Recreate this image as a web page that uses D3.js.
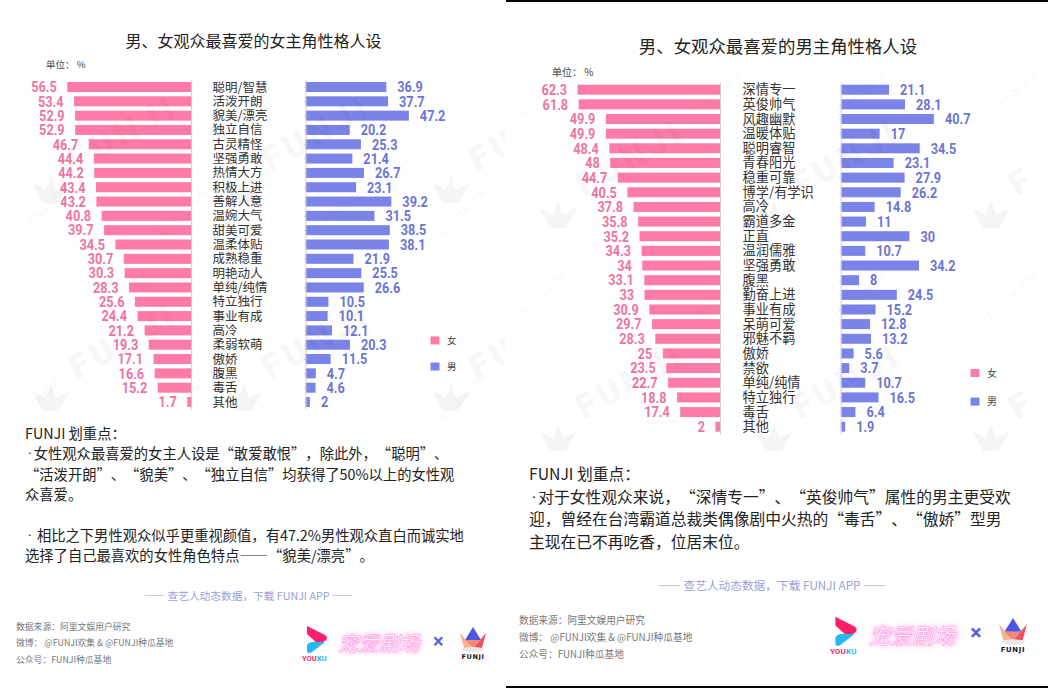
<!DOCTYPE html>
<html lang="zh-CN">
<head>
<meta charset="utf-8">
<script src="https://cdn.jsdelivr.net/npm/d3@7"></script>
<style>
@font-face { font-family: "NarrowDot"; src: local("Roboto"); unicode-range: U+B7; }
html, body { margin: 0; padding: 0; background: #fff; }
svg { display: block; }
text { font-family: "NarrowDot", "Noto Sans CJK SC", "Noto Sans", sans-serif; text-spacing-trim: space-all; }
</style>
</head>
<body>
<svg id="chart" width="1048" height="688"></svg>
<script>
// left panel, favourite female lead traits
var femaleLeadTraits = ["聪明/智慧", "活泼开朗", "貌美/漂亮", "独立自信", "古灵精怪", "坚强勇敢", "热情大方", "积极上进", "善解人意", "温婉大气", "甜美可爱", "温柔体贴", "成熟稳重", "明艳动人", "单纯/纯情", "特立独行", "事业有成", "高冷", "柔弱软萌", "傲娇", "腹黑", "毒舌", "其他"];
var femaleLeadWomen = [56.5, 53.4, 52.9, 52.9, 46.7, 44.4, 44.2, 43.4, 43.2, 40.8, 39.7, 34.5, 30.7, 30.3, 28.3, 25.6, 24.4, 21.2, 19.3, 17.1, 16.6, 15.2, 1.7];
var femaleLeadMen = [36.9, 37.7, 47.2, 20.2, 25.3, 21.4, 26.7, 23.1, 39.2, 31.5, 38.5, 38.1, 21.9, 25.5, 26.6, 10.5, 10.1, 12.1, 20.3, 11.5, 4.7, 4.6, 2];

// right panel, favourite male lead traits
var maleLeadTraits = ["深情专一", "英俊帅气", "风趣幽默", "温暖体贴", "聪明睿智", "青春阳光", "稳重可靠", "博学/有学识", "高冷", "霸道多金", "正直", "温润儒雅", "坚强勇敢", "腹黑", "勤奋上进", "事业有成", "呆萌可爱", "邪魅不羁", "傲娇", "禁欲", "单纯/纯情", "特立独行", "毒舌", "其他"];
var maleLeadWomen = [62.3, 61.8, 49.9, 49.9, 48.4, 48, 44.7, 40.5, 37.8, 35.8, 35.2, 34.3, 34, 33.1, 33, 30.9, 29.7, 28.3, 25, 23.5, 22.7, 18.8, 17.4, 2];
var maleLeadMen = [21.1, 28.1, 40.7, 17, 34.5, 23.1, 27.9, 26.2, 14.8, 11, 30, 10.7, 34.2, 8, 24.5, 15.2, 12.8, 13.2, 5.6, 3.7, 10.7, 16.5, 6.4, 1.9];

var legendLabels = ["女", "男"];

var leftNotes = [
  "FUNJI 划重点：",
  "\u2009·\u2009女性观众最喜爱的女主人设是“敢爱敢恨”，除此外，“聪明”、",
  "“活泼开朗”、“貌美”、“独立自信”均获得了50%以上的女性观",
  "众喜爱。",
  "",
  "\u2009· \u2009相比之下男性观众似乎更重视颜值，有47.2%男性观众直白而诚实地",
  "选择了自己最喜欢的女性角色特点——“貌美/漂亮”。"
];
var rightNotes = [
  "FUNJI 划重点：",
  "\u2009·\u2009对于女性观众来说，“深情专一”、“英俊帅气”属性的男主更受欢",
  "迎，曾经在台湾霸道总裁类偶像剧中火热的“毒舌”、“傲娇”型男",
  "主现在已不再吃香，位居末位。"
];
var sourceLines = ["数据来源：阿里文娱用户研究", "微博： @FUNJI欢集 & @FUNJI种瓜基地", "公众号：FUNJI种瓜基地"];

var PINK = "#ff7ba7", BLUE = "#7a83e8", PINK_TEXT = "#ee74a2", BLUE_TEXT = "#6c75d6";

var svg = d3.select("#chart");

function drawPanel(p) {
  var g = svg.append("g");

  g.append("text").attr("x", p.titleX).attr("y", p.titleY)
    .attr("text-anchor", "middle").attr("font-size", p.titleSize).attr("fill", "#222")
    .text(p.title);
  g.append("text").attr("x", p.unitX).attr("y", p.unitY)
    .attr("font-size", p.smallSize).attr("fill", "#444").text("单位： %");

  // half a step of padding lets the axis line run a little past the first and last bar
  var step = (p.bottom - p.top) / (p.traits.length - 1);
  var y = d3.scalePoint().domain(p.traits).range([p.top - step / 2, p.bottom + step / 2]).padding(0.5);
  var xWomen = d3.scaleLinear().domain([0, 50]).range([p.womenBase, p.womenBase - 50 * p.pxPerUnit]);
  var xMen = d3.scaleLinear().domain([0, 50]).range([p.menBase, p.menBase + 50 * p.pxPerUnit]);
  var barH = 10;

  // bars
  g.selectAll(".women").data(p.women).enter().append("rect")
    .attr("x", function (d) { return xWomen(d); })
    .attr("y", function (d, i) { return y(p.traits[i]) - barH / 2; })
    .attr("width", function (d) { return xWomen(0) - xWomen(d); })
    .attr("height", barH)
    .style("fill", PINK);
  g.selectAll(".men").data(p.men).enter().append("rect")
    .attr("x", xMen(0))
    .attr("y", function (d, i) { return y(p.traits[i]) - barH / 2; })
    .attr("width", function (d) { return xMen(d) - xMen(0); })
    .attr("height", barH)
    .style("fill", BLUE);

  // the two axis lines with their little ticks
  [[d3.axisRight(y), p.womenBase], [d3.axisLeft(y), p.menBase]].forEach(function (a) {
    var ax = g.append("g").attr("transform", "translate(" + a[1] + ",0)")
      .call(a[0].tickSizeInner(1.5).tickSizeOuter(0).tickFormat(""));
    ax.selectAll("path, line").style("stroke", "#d0d0d6");
  });

  // value labels, squeezed sideways because no condensed bold font is around
  g.selectAll(".womenLabel").data(p.women).enter().append("text")
    .attr("transform", function (d, i) {
      return "translate(" + (xWomen(d) - 10.5) + "," + (y(p.traits[i]) + 5.3) + ") scale(0.82,1)";
    })
    .attr("text-anchor", "end")
    .style("font-family", "Roboto").style("font-weight", "bold").style("font-size", "15.5px")
    .style("fill", PINK_TEXT)
    .text(function (d) { return d; });
  g.selectAll(".menLabel").data(p.men).enter().append("text")
    .attr("transform", function (d, i) {
      return "translate(" + (xMen(d) + 11) + "," + (y(p.traits[i]) + 5.3) + ") scale(0.82,1)";
    })
    .style("font-family", "Roboto").style("font-weight", "bold").style("font-size", "15.5px")
    .style("fill", BLUE_TEXT)
    .text(function (d) { return d; });

  // trait names
  g.selectAll(".trait").data(p.traits).enter().append("text")
    .attr("x", p.traitX)
    .attr("y", function (d) { return y(d) + 4.5; })
    .attr("font-size", p.traitSize).attr("fill", "#333")
    .text(function (d) { return d; });

  // legend
  legendLabels.forEach(function (l, i) {
    var ly = p.legendY + i * p.legendGap;
    g.append("rect").attr("x", p.legendX).attr("y", ly - 4).attr("width", 9).attr("height", 8)
      .style("fill", i === 0 ? PINK : BLUE);
    g.append("text").attr("x", p.legendX + 16.5).attr("y", ly + 3.5)
      .attr("font-size", p.smallSize).attr("fill", "#444").text(l);
  });

  // commentary
  g.selectAll(".note").data(p.notes).enter().append("text")
    .attr("x", p.noteX)
    .attr("y", function (d, i) { return p.noteY + i * p.noteGap; })
    .attr("font-size", p.noteSize).attr("fill", "#222")
    .text(function (d) { return d; });

  // app line
  g.append("text").attr("x", p.appX).attr("y", p.appY).attr("text-anchor", "middle")
    .attr("font-size", p.appSize).attr("fill", "#9a9fd8")
    .text("—— 查艺人动态数据，下载 FUNJI APP ——");

  // source block
  g.selectAll(".source").data(sourceLines).enter().append("text")
    .attr("x", p.sourceX)
    .attr("y", function (d, i) { return p.sourceY + i * p.sourceGap; })
    .attr("font-size", p.sourceSize).attr("fill", "#777")
    .text(function (d) { return d; });

  drawLogos(p.logoX, p.logoY, p.logoScale);
}

function drawLogos(x, y, scale) {
  // youku chevrons
  var g = svg.append("g").attr("transform", "translate(" + x + "," + y + ") scale(" + scale + ")");
  g.append("path").attr("d", "M5,-2 L23,7 Q27,10 23,13 L16,16 L5,6 Z").style("fill", "#ff1d6e");
  g.append("path").attr("d", "M23,14 L10,24 Q5,27 5,22 L5,17 Q8,13 15,14 Z").style("fill", "#25b8f5");
  g.append("text").attr("x", 0).attr("y", 33).attr("font-size", 7.5).attr("font-weight", "bold")
    .style("font-family", "Roboto").style("fill", "#ff1d6e").text("YOU");
  g.append("text").attr("x", 15).attr("y", 33).attr("font-size", 7.5).attr("font-weight", "bold")
    .style("font-family", "Roboto").style("fill", "#25b8f5").text("KU");

  // neon title
  g.append("text").attr("x", 36).attr("y", 23)
    .attr("font-size", 20.5).attr("font-style", "italic")
    .style("fill", "#fff").style("stroke", "#ff8fdc").style("stroke-width", 0.45)
    .style("filter", "drop-shadow(0 0 2.5px #ff9fe6)")
    .text("宠爱剧场");

  // times sign
  g.append("text").attr("x", 131).attr("y", 20).attr("font-size", 20).attr("font-weight", "bold")
    .style("font-family", "Roboto").style("fill", "#5a63d8").text("×");

  // funji crown
  var c = g.append("g").attr("transform", "translate(158,0)");
  c.append("path").attr("d", "M13,-1 L5,12 L21,12 Z").style("fill", "#4f55e0");
  c.append("path").attr("d", "M0,5 L13,20 L4,20 Z").style("fill", "#f7b48c");
  c.append("path").attr("d", "M26,5 L13,20 L22,20 Z").style("fill", "#ef5060");
  c.append("path").attr("d", "M5,12 L21,12 L13,20 Z").style("fill", "#f48a7a");
  c.append("ellipse").attr("cx", 13).attr("cy", 21.5).attr("rx", 11).attr("ry", 2.5).style("fill", "#e4e8ea");
  c.append("text").attr("x", 13).attr("y", 31).attr("text-anchor", "middle").attr("font-size", 6.5)
    .attr("font-weight", "bold").style("font-family", "DejaVu Sans").style("letter-spacing", "0.6px").style("fill", "#111").text("FUNJI");
}

// pale FUNJI and hanabi stamps over the panel, cols are [x, word]
function drawWatermarks(cols, rows, hanabiCols, hanabiRows) {
  var g = svg.append("g").style("pointer-events", "none");
  cols.forEach(function (col) {
    rows.forEach(function (cy) {
      g.append("text").attr("transform", "translate(" + col[0] + "," + cy + ") rotate(-29)")
        .attr("font-size", 34).attr("font-weight", 900)
        .style("font-family", "Roboto").style("letter-spacing", "5px")
        .style("fill", "rgba(0,0,0,0.05)").text(col[1]);
      g.append("path").attr("transform", "translate(" + (col[0] - 45) + "," + (cy + 11) + ")")
        .attr("d", "M0,0 L14,7 L19,-8 L24,7 L38,0 L27,20 L11,20 Z")
        .style("fill", "rgba(0,0,0,0.04)");
    });
  });
  hanabiCols.forEach(function (hx) {
    hanabiRows.forEach(function (hy) {
      g.append("text").attr("transform", "translate(" + hx + "," + hy + ") rotate(-45)")
        .attr("text-anchor", "middle").attr("font-size", 12)
        .style("fill", "rgba(0,0,0,0.05)").text("花火hanabi");
    });
  });
}

drawPanel({
  title: "男、女观众最喜爱的女主角性格人设", titleX: 253.5, titleY: 47, titleSize: 16,
  unitX: 46, unitY: 68, smallSize: 9.5,
  traits: femaleLeadTraits, women: femaleLeadWomen, men: femaleLeadMen,
  top: 87, bottom: 402, womenBase: 191, menBase: 305.5, pxPerUnit: 2.19, traitX: 212.5, traitSize: 12.5,
  legendX: 430.5, legendY: 340.5, legendGap: 26,
  notes: leftNotes, noteX: 25, noteY: 439, noteGap: 20.4, noteSize: 14.3,
  appX: 248.5, appY: 600, appSize: 10.7,
  sourceX: 16, sourceY: 630, sourceGap: 16.4, sourceSize: 8.8,
  logoX: 302, logoY: 628, logoScale: 1
});
drawWatermarks([[77, "FUNJI"], [270, "FUNJI"], [477, "FU"]], [172, 380], [44, 187, 340, 465], [215, 400]);

// the right screenshot sits on top of the left one
svg.append("rect").attr("x", 505).attr("y", 0).attr("width", 543).attr("height", 688).style("fill", "#fff");

drawPanel({
  title: "男、女观众最喜爱的男主角性格人设", titleX: 778, titleY: 53, titleSize: 17.4,
  unitX: 552, unitY: 76, smallSize: 10,
  traits: maleLeadTraits, women: maleLeadWomen, men: maleLeadMen,
  top: 89.7, bottom: 426.7, womenBase: 720, menBase: 840.8, pxPerUnit: 2.287, traitX: 742.6, traitSize: 13.2,
  legendX: 970.5, legendY: 373, legendGap: 28.6,
  notes: rightNotes, noteX: 529, noteY: 480, noteGap: 22.7, noteSize: 15.75,
  appX: 772, appY: 590, appSize: 11.7,
  sourceX: 519, sourceY: 623.5, sourceGap: 17.3, sourceSize: 9.7,
  logoX: 830, logoY: 619, logoScale: 1.07
});
drawWatermarks([[584, "FUNJI"], [800, "FUNJI"], [1017, "F"]], [197, 420], [545, 720, 862, 1014], [97, 300]);

// black page edges of the right screenshot
svg.append("rect").attr("x", 506).attr("y", 0).attr("width", 542).attr("height", 2).style("fill", "#000");
svg.append("rect").attr("x", 506).attr("y", 686).attr("width", 542).attr("height", 2).style("fill", "#000");
</script>
</body>
</html>
